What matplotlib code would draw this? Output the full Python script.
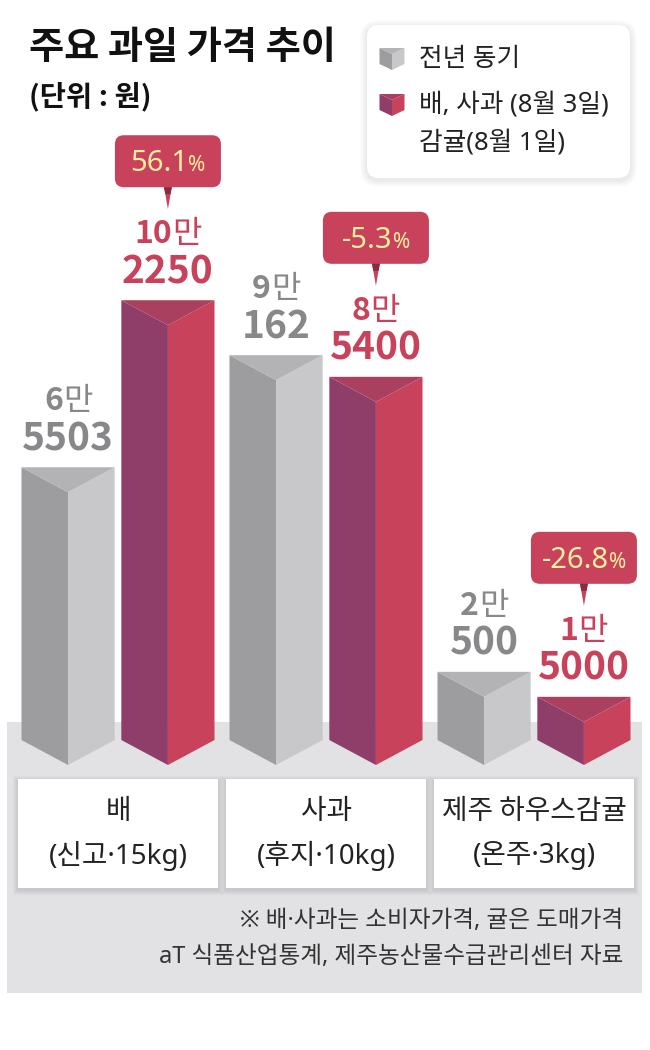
import matplotlib.pyplot as plt
from matplotlib.patches import Polygon, FancyBboxPatch, Rectangle

plt.rcParams['font.family'] = ['Noto Sans CJK KR', 'DejaVu Sans']
# 라틴 문자와 가운뎃점은 좁은 글꼴로
MIXED = ['Noto Sans', 'Noto Sans CJK KR', 'DejaVu Sans']

# 데이터 (단위: 원)
categories = ['배', '사과', '제주 하우스감귤']
units = ['(신고·15kg)', '(후지·10kg)', '(온주·3kg)']
prev_year = [65503, 90162, 20500]
this_year = [102250, 85400, 15000]
change_pct = ['56.1', '-5.3', '-26.8']
legend_labels = ['전년 동기', '배, 사과 (8월 3일)', '감귤(8월 1일)']
notes = ['※ 배·사과는 소비자가격, 귤은 도매가격',
         'aT 식품산업통계, 제주농산물수급관리센터 자료']

# 레이아웃 (픽셀)
W, H = 650, 1050
ZERO_PX, WON_PER_PX = 765, 220
GROUP_PX0, GROUP_STEP = 118, 208
OFFSET, HALF_W = 0.24, 0.224
DEPTH = 25 * WON_PER_PX

GRAY = ('#9d9d9f', '#c8c8ca', '#b3b3b5')
RED = ('#8e3e68', '#c7425a', '#a9405f')
GRAY_TXT = '#88888b'
RED_TXT = '#c7425a'
PCT_TXT = '#fdf0a2'

fig = plt.figure(figsize=(W / 100, H / 100), dpi=100)

# 배경, 상자, 글자용 (픽셀 좌표)
ov = fig.add_axes([0, 0, 1, 1])
ov.set_xlim(0, W)
ov.set_ylim(H, 0)
ov.axis('off')

# 막대용 (데이터 좌표)
ax = fig.add_axes([0, 0, 1, 1])
ax.set_xlim(-GROUP_PX0 / GROUP_STEP, (W - GROUP_PX0) / GROUP_STEP)
ax.set_ylim(-(H - ZERO_PX) * WON_PER_PX, ZERO_PX * WON_PER_PX)
ax.axis('off')

renderer = fig.canvas.get_renderer()


def to_px(x, v):
    return ov.transData.inverted().transform(ax.transData.transform((x, v)))


def prism(axis, xc, hw, top, bottom, d, colors):
    left, right, cap = colors
    xl, xr = xc - hw, xc + hw
    axis.add_patch(Polygon([(xl, top), (xc, top - d), (xc, bottom - d), (xl, bottom)],
                           fc=left, ec='none'))
    axis.add_patch(Polygon([(xc, top - d), (xr, top), (xr, bottom), (xc, bottom - d)],
                           fc=right, ec='none'))
    axis.add_patch(Polygon([(xl, top), (xr, top), (xc, top - d)], fc=cap, ec='none'))


def two_part(axis, xy, dy, a, b, kw_a, kw_b):
    # 두 글자를 한 줄에 붙여서 가운데 정렬
    ta = axis.annotate(a, xy, xytext=(0, dy), textcoords='offset pixels',
                       ha='right', va='baseline', **kw_a)
    tb = axis.annotate(b, xy, xytext=(0, dy), textcoords='offset pixels',
                       ha='left', va='baseline', **kw_b)
    wa = ta.get_window_extent(renderer).width
    wb = tb.get_window_extent(renderer).width
    shift = (wa - wb) / 2
    ta.xyann = (shift, dy)
    tb.xyann = (shift, dy)


# 회색 바닥
ov.add_patch(Rectangle((7, 722), 635, 271, fc='#e2e2e4', ec='none'))

# 막대
for i in range(len(categories)):
    for x, v, cols, tc in [(i - OFFSET, prev_year[i], GRAY, GRAY_TXT),
                           (i + OFFSET, this_year[i], RED, RED_TXT)]:
        prism(ax, x, HALF_W, v, DEPTH, DEPTH, cols)
        two_part(ax, (x, v), 57, f'{v // 10000}', '만',
                 dict(fontsize=23, weight='bold', color=tc),
                 dict(fontsize=23, color=tc))
        ax.annotate(f'{v % 10000}', (x, v), xytext=(0, 17), textcoords='offset pixels',
                    ha='center', va='baseline', fontsize=28, weight='bold', color=tc)

# 증감률 말풍선
for i, pct in enumerate(change_pct):
    cx, ty = to_px(i + OFFSET, this_year[i])
    bottom = ty - 113
    ov.add_patch(FancyBboxPatch((cx - 53, bottom - 52), 106, 52,
                                boxstyle='round,pad=0,rounding_size=9',
                                fc=RED_TXT, ec='none'))
    ov.add_patch(Polygon([(cx - 4, bottom - 1), (cx + 4, bottom - 1), (cx, bottom + 22)],
                         fc=RED_TXT, ec='none'))
    ov.add_patch(Polygon([(cx - 4, bottom), (cx + 4, bottom), (cx + 2.6, bottom + 7),
                          (cx - 2.6, bottom + 7)], fc='#8a2c40', ec='none'))
    two_part(ov, (cx, bottom - 26), -10, pct, '%',
             dict(fontsize=21, color=PCT_TXT, family=MIXED),
             dict(fontsize=15, color=PCT_TXT, family=MIXED))

# 품목 이름 상자
for i, (cat, unit) in enumerate(zip(categories, units)):
    cx = to_px(i, 0)[0]
    for k in range(1, 6):
        ov.add_patch(Rectangle((cx - 100 - k, 779 - k + 2), 200 + 2 * k, 109 + 2 * k,
                               fc='black', alpha=0.018, ec='none'))
    ov.add_patch(Rectangle((cx - 100, 779), 200, 109, fc='white', ec='none'))
    ov.text(cx, 811, cat, ha='center', va='center', fontsize=20, color='#222222')
    ov.text(cx, 856, unit, ha='center', va='center', fontsize=20, color='#222222',
            family=MIXED)

# 출처
ov.text(623, 921, notes[0], ha='right', va='center', fontsize=17, color='#333333',
        family=MIXED)
ov.text(623, 957, notes[1], ha='right', va='center', fontsize=17, color='#333333',
        family=MIXED)

# 제목
ov.text(29, 48, '주요 과일 가격 추이', va='center', fontsize=27.5, weight='bold', color='#111111')
ov.text(29, 97, '(단위 : 원)', va='center', fontsize=20.5, weight='bold', color='#111111')

# 범례
for k in range(1, 8):
    ov.add_patch(FancyBboxPatch((367 - k, 25 - k + 2), 263 + 2 * k, 153 + 2 * k,
                                boxstyle=f'round,pad=0,rounding_size={12 + k}',
                                fc='black', alpha=0.012, ec='none'))
ov.add_patch(FancyBboxPatch((367, 25), 263, 153, boxstyle='round,pad=0,rounding_size=12',
                            fc='white', ec='none'))
prism(ov, 392, 12.5, 48, 64, -6, GRAY)
prism(ov, 392, 12.5, 94, 110, -6, RED)
for j, lab in enumerate(legend_labels):
    ov.text(419, [60, 105, 143][j], lab, va='center', fontsize=18.5, color='#222222',
            family=MIXED)

fig.savefig('out.png', dpi=100)
